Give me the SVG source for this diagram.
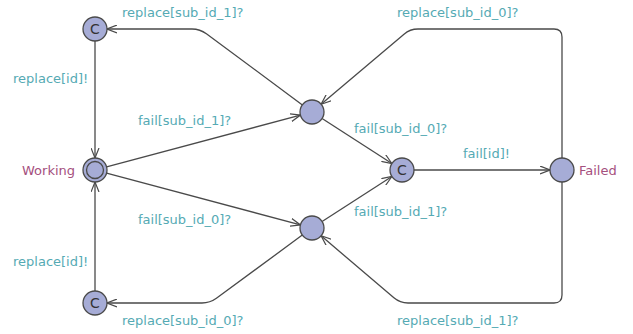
<svg xmlns="http://www.w3.org/2000/svg" width="633" height="334" viewBox="0 0 633 334">
  <style>
    .loc { fill: #a6acd6; stroke: #4a4a4a; stroke-width: 1.3; }
    .edge { fill: none; stroke: #4a4a4a; stroke-width: 1.3; marker-end: url(#arrow); }
    .sync { font-family: "DejaVu Sans", sans-serif; font-size: 13px; fill: #55aab4; }
    .name { font-family: "DejaVu Sans", sans-serif; font-size: 13px; fill: #a5507e; }
    .cmark { font-family: "DejaVu Sans", sans-serif; font-size: 14px; fill: #333; text-anchor: middle; }
  </style>
  <defs>
    <marker id="arrow" viewBox="0 0 10 9" refX="10" refY="4.5" markerWidth="10" markerHeight="9" markerUnits="userSpaceOnUse" orient="auto">
      <path d="M0,0.5 L10,4.5 L0,8.5" fill="none" stroke="#4a4a4a" stroke-width="1.2"/>
    </marker>
  </defs>

  <g id="edges">
    <line class="edge" x1="95" y1="41" x2="95" y2="158"/>
    <line class="edge" x1="95" y1="291" x2="95" y2="182"/>
    <line class="edge" x1="106.6" y1="166.9" x2="300.4" y2="115.1"/>
    <line class="edge" x1="106.6" y1="173.1" x2="300.4" y2="224.9"/>
    <line class="edge" x1="322.1" y1="118.5" x2="391.9" y2="163.5"/>
    <line class="edge" x1="322.1" y1="221.5" x2="391.9" y2="176.5"/>
    <line class="edge" x1="414" y1="170" x2="550" y2="170"/>
    <path class="edge" d="M302.4,104.9 L206.4,33.8 Q200,29 192,29 L107,29"/>
    <path class="edge" d="M562,158 L562,37 Q562,29 554,29 L418,29 Q410,29 404,34.2 L321.1,104.2"/>
    <path class="edge" d="M562,182 L562,295 Q562,303 554,303 L408,303 Q400,303 393.9,297.8 L321.1,235.8"/>
    <path class="edge" d="M302.3,235.1 L216.4,298.3 Q210,303 202,303 L107,303"/>
  </g>

  <g id="labels">
    <text class="sync" x="122" y="17">replace[sub_id_1]?</text>
    <text class="sync" x="13" y="83">replace[id]!</text>
    <text class="sync" x="138" y="125">fail[sub_id_1]?</text>
    <text class="sync" x="397" y="17">replace[sub_id_0]?</text>
    <text class="sync" x="354" y="133">fail[sub_id_0]?</text>
    <text class="sync" x="463" y="158">fail[id]!</text>
    <text class="sync" x="138" y="224">fail[sub_id_0]?</text>
    <text class="sync" x="354" y="216">fail[sub_id_1]?</text>
    <text class="sync" x="13" y="266">replace[id]!</text>
    <text class="sync" x="122" y="325">replace[sub_id_0]?</text>
    <text class="sync" x="397" y="325">replace[sub_id_1]?</text>
  </g>

  <g id="commit_top">
    <circle class="loc" cx="95" cy="29" r="12"/>
    <text class="cmark" x="95" y="34">C</text>
  </g>
  <g id="working">
    <circle class="loc" cx="95" cy="170" r="12"/>
    <circle class="loc" cx="95" cy="170" r="8.5"/>
    <text class="name" x="22" y="175">Working</text>
  </g>
  <g id="commit_bottom">
    <circle class="loc" cx="95" cy="303" r="12"/>
    <text class="cmark" x="95" y="308">C</text>
  </g>
  <g id="sub_fail_1">
    <circle class="loc" cx="312" cy="112" r="12"/>
  </g>
  <g id="sub_fail_0">
    <circle class="loc" cx="312" cy="228" r="12"/>
  </g>
  <g id="commit_fail">
    <circle class="loc" cx="402" cy="170" r="12"/>
    <text class="cmark" x="402" y="175">C</text>
  </g>
  <g id="failed">
    <circle class="loc" cx="562" cy="170" r="12"/>
    <text class="name" x="579" y="175">Failed</text>
  </g>
</svg>
